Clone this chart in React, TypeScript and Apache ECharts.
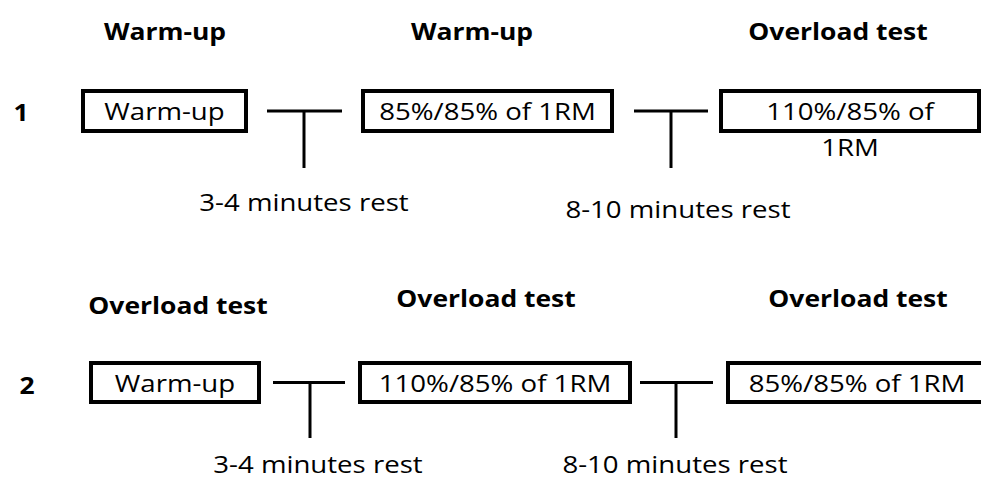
import React, { useEffect, useRef } from 'react';
import * as echarts from 'echarts';

// ---- content ----
const rowLabels = ['1', '2'];
const stageHeaders = [
  ['Warm-up', 'Warm-up', 'Overload test'],
  ['Overload test', 'Overload test', 'Overload test'],
];
const boxLabels = [
  ['Warm-up', '85%/85% of 1RM', '110%/85% of\n1RM'],
  ['Warm-up', '110%/85% of 1RM', '85%/85% of 1RM'],
];
const restLabels = ['3-4 minutes rest', '8-10 minutes rest'];

// ---- layout (pixels) ----
const ROW_LAYOUT = [
  {
    label: [21, 112],
    boxTop: 91,
    boxBottom: 131,
    boxes: [[83, 246], [363, 612], [721, 979]],
    headers: [[165, 31], [472, 31], [838, 31]],
    tees: [[267, 342, 304, 168], [634, 708, 671, 168]],
    rests: [[304, 202], [678, 209]],
  },
  {
    label: [27, 385],
    boxTop: 363,
    boxBottom: 402,
    boxes: [[91, 259], [360, 630], [728, 986]],
    headers: [[178, 305], [486, 298], [858, 298]],
    tees: [[273, 345, 310, 438], [640, 713, 676, 438]],
    rests: [[318, 464], [675, 464]],
  },
];

const FONT = '"Open Sans", "Noto Sans", sans-serif';
const REG_SIZE = 24;
const BOLD_SIZE = 23;
const SX = 1.15;
const LINE_GAP = 36;

function txt(text: string, x: number, y: number, bold: boolean) {
  return {
    type: 'text',
    x,
    y,
    scaleX: SX,
    style: {
      text,
      x: 0,
      y: 0,
      fill: '#000',
      font: `${bold ? 'bold ' : ''}${bold ? BOLD_SIZE : REG_SIZE}px ${FONT}`,
      textAlign: 'center',
      textVerticalAlign: 'middle',
    },
  };
}

function buildGraphics() {
  const els: any[] = [];
  ROW_LAYOUT.forEach((row, r) => {
    els.push(txt(rowLabels[r], row.label[0], row.label[1], true));
    const cy = (row.boxTop + row.boxBottom) / 2;
    row.boxes.forEach(([x0, x1], i) => {
      els.push({
        type: 'rect',
        shape: { x: x0, y: row.boxTop, width: x1 - x0, height: row.boxBottom - row.boxTop },
        style: { fill: '#fff', stroke: '#000', lineWidth: 4 },
      });
      const cx = (x0 + x1) / 2;
      boxLabels[r][i].split('\n').forEach((line, k) => {
        els.push(txt(line, cx, cy + k * LINE_GAP, false));
      });
      const [hx, hy] = row.headers[i];
      els.push(txt(stageHeaders[r][i], hx, hy, true));
    });
    row.tees.forEach(([x0, x1, vx, vy], i) => {
      els.push({
        type: 'line',
        shape: { x1: x0, y1: cy, x2: x1, y2: cy },
        style: { stroke: '#000', lineWidth: 3 },
      });
      els.push({
        type: 'line',
        shape: { x1: vx, y1: cy, x2: vx, y2: vy },
        style: { stroke: '#000', lineWidth: 3 },
      });
      const [rx, ry] = row.rests[i];
      els.push(txt(restLabels[i], rx, ry, false));
    });
  });
  return els;
}

export default function App() {
  const ref = useRef<HTMLDivElement>(null);
  useEffect(() => {
    if (!ref.current) return;
    const chart = echarts.init(ref.current, undefined, { renderer: 'svg' });
    chart.setOption({
      animation: false,
      backgroundColor: '#fff',
      graphic: { elements: buildGraphics() },
    });
    return () => chart.dispose();
  }, []);
  return (
    <div
      ref={ref}
      style={{ position: 'fixed', left: 0, top: 0, width: 981, height: 482, background: '#fff' }}
    />
  );
}
